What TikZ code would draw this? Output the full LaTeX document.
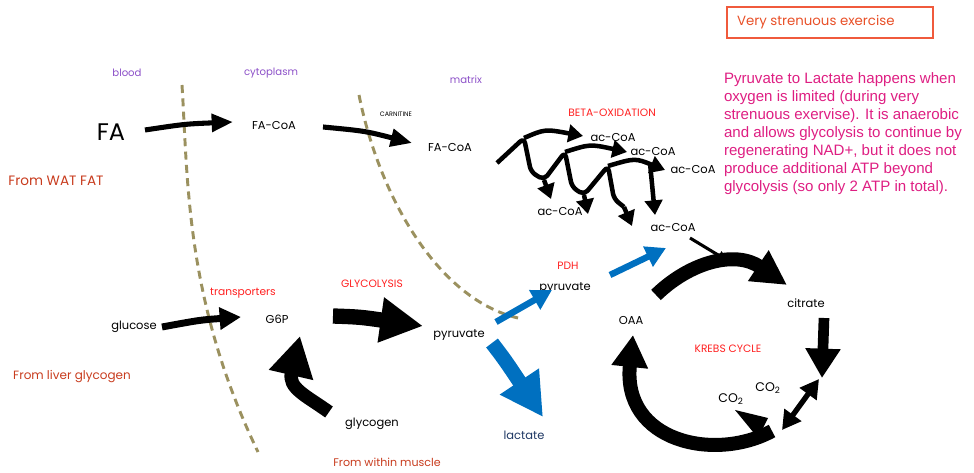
\documentclass[tikz,border=0pt]{standalone}
\usepackage{fontspec}
\setmainfont{Poppins}
\newfontfamily\arialf{Liberation Sans}
\usetikzlibrary{arrows.meta}
\definecolor{labred}{RGB}{255,32,32}
\definecolor{labpurple}{RGB}{140,80,200}
\definecolor{fromred}{RGB}{200,60,30}
\definecolor{arrblue}{RGB}{0,112,192}
\definecolor{navy}{RGB}{31,56,100}
\definecolor{olive}{RGB}{155,145,95}
\definecolor{magenta}{RGB}{222,30,130}
\definecolor{boxred}{RGB}{240,90,60}
\definecolor{boxtext}{RGB}{232,80,40}
\begin{document}
\begin{tikzpicture}[x=0.75pt,y=-0.75pt,
  every node/.style={inner sep=0pt,outer sep=0pt},
  lbl/.style={font=\fontsize{8.6}{10}\selectfont},
  redlbl/.style={text=labred,font=\fontsize{8}{9}\selectfont},
  purplbl/.style={text=labpurple,font=\fontsize{7.6}{9}\selectfont},
  fromlbl/.style={text=fromred,font=\fontsize{9.2}{10}\selectfont},
  membrane/.style={draw=olive,line width=2.2pt,dash pattern=on 6pt off 4pt},
  fat/.style args={#1/#2/#3}{draw,line width=#1,-{Triangle[width=#2,length=#3]}},
  bothfat/.style args={#1/#2/#3}{draw,line width=#1,{Triangle[width=#2,length=#3]}-{Triangle[width=#2,length=#3]}},
  bo/.style={draw,line width=3.4pt,line join=round},
  boarr/.style={bo,-{Triangle[width=13pt,length=11pt]}}
]
\useasboundingbox (0,0) rectangle (974,473);

% ---------- header box and note ----------
\node[draw=boxred,line width=0.9pt,minimum width=206*0.75pt,minimum height=31*0.75pt,anchor=north west] (box) at (727,7) {};
\node[anchor=west,text=boxtext,font=\fontsize{10}{12}\selectfont] (boxt) at (737,22) {Very strenuous exercise};
\node[anchor=north west,text=magenta,align=left,font=\arialf\fontsize{11.3}{13.5}\selectfont] (note) at (724,73)
 {Pyruvate to Lactate happens when\\oxygen is limited (during very\\strenuous exervise). It is anaerobic\\and allows glycolysis to continue by\\regenerating NAD+, but it does not\\produce additional ATP beyond\\glycolysis (so only 2 ATP in total).};

% ---------- membranes ----------
\draw[membrane] (182,85) .. controls (188,180) and (185,300) .. (258,452);
\draw[membrane] (359,95) .. controls (380,200) and (440,300) .. (518,318);

% ---------- compartment labels ----------
\node[purplbl] (blood) at (127,73) {blood};
\node[purplbl] (cyto) at (271,73) {cytoplasm};
\node[purplbl] (matrix) at (466,80) {matrix};

% ---------- fatty acid branch ----------
\node[font=\fontsize{18}{20}\selectfont] (fa) at (111,132) {FA};
\node[lbl] (facoa1) at (274,126) {FA-CoA};
\node[font=\fontsize{4.8}{5}\selectfont] (carn) at (396,114) {CARNITINE};
\node[lbl] (facoa2) at (450,148) {FA-CoA};
\node[fromlbl,font=\fontsize{10.2}{11}\selectfont] (wat) at (56,181) {From WAT FAT};

\coordinate (a1s) at (145,130); \coordinate (a1e) at (233,122);
\draw[fat=3.8pt/13pt/16pt] (a1s) .. controls (185,124) .. (a1e);
\coordinate (a2s) at (323,127); \coordinate (a2e) at (412,143);
\draw[fat=3.8pt/13pt/16pt] (a2s) .. controls (365,131) .. (a2e);

% ---------- beta oxidation ----------
\node[redlbl] (beta) at (612,113) {BETA-OXIDATION};
\node[lbl] (ac1) at (613,138) {ac-CoA};
\node[lbl] (ac2) at (653,152) {ac-CoA};
\node[lbl] (ac3) at (693,170) {ac-CoA};
\node[lbl] (ac4) at (560,212) {ac-CoA};
\node[lbl] (ac5) at (673,228) {ac-CoA};

\coordinate (p1) at (524,138); \coordinate (p2) at (565,152); \coordinate (p3) at (608,166);
\coordinate (v1) at (544,180); \coordinate (v2) at (584,195); \coordinate (v3) at (624,207);
\draw[bo,rounded corners=4pt] (497,163) -- (p1) -- (531,172) -- (v1) -- (p2) -- (572,187) -- (v2) -- (p3) -- (614,199) -- (v3);
\draw[boarr] (p1) .. controls (545,129) .. (583,136);
\draw[boarr] (p2) .. controls (590,144) .. (627,152);
\draw[boarr] (p3) .. controls (635,158) .. (665,170);
\draw[boarr] (v1) -- (551,199);
\draw[boarr] (v2) -- (588,214);
\draw[boarr] (v3) -- (632,226);
\draw[boarr] (650,163) -- (655,215);

% ---------- glycolysis ----------
\node[redlbl] (trans) at (243,293) {transporters};
\node[redlbl] (glyc) at (372,284) {GLYCOLYSIS};
\node[lbl] (glucose) at (134,327) {glucose};
\node[lbl] (g6p) at (277,319) {G6P};
\node[lbl] (pyr1) at (459,335) {pyruvate};
\node[fromlbl,font=\fontsize{9}{10}\selectfont] (liver) at (72,377) {From liver glycogen};
\node[lbl] (glycogen) at (372,424) {glycogen};
\node[fromlbl,font=\fontsize{8.3}{9}\selectfont] (muscle) at (387,462) {From within muscle};
\node[lbl,text=navy] (lactate) at (524,435) {lactate};

\coordinate (gs) at (162,327); \coordinate (ge) at (241,317);
\draw[fat=5.2pt/16pt/16pt] (gs) .. controls (200,320) .. (ge);
\coordinate (ys) at (333,316); \coordinate (ye) at (423,326);
\draw[fat=11.5pt/32pt/32pt] (ys) .. controls (360,317) .. (ye);
\coordinate (ks) at (329,412); \coordinate (ke) at (300,336);
\draw[fat=10pt/32pt/30pt] (ks) .. controls (305,395) and (288,388) .. (ke);

% ---------- PDH / lactate ----------
\node[redlbl] (pdh) at (568,266) {PDH};
\node[lbl] (pyr2) at (565,288) {pyruvate};
\draw[fat=4.8pt/16pt/15pt,draw=arrblue,color=arrblue] (496,322) -- (552,290);
\draw[fat=4.8pt/16pt/15pt,draw=arrblue,color=arrblue] (610,275) -- (666,248);
\draw[fat=11pt/33pt/32pt,draw=arrblue,color=arrblue] (492,343) .. controls (505,360) .. (543,417);

% ---------- Krebs cycle ----------
\node[lbl] (oaa) at (631,320) {OAA};
\node[lbl] (citrate) at (806,303) {citrate};
\node[redlbl] (krebs) at (728,349) {KREBS CYCLE};
\node[lbl,font=\fontsize{9.4}{10}\selectfont] (co2a) at (768,388) {CO\textsubscript{2}};
\node[lbl,font=\fontsize{9.4}{10}\selectfont] (co2b) at (731,399) {CO\textsubscript{2}};

\draw[draw,line width=2.3pt,-{Triangle[width=7pt,length=8pt]}] (690,238) -- (728,261);
\draw[fat=10.5pt/26pt/26pt] (656,295) .. controls (690,262) and (735,250) .. (787,285);
\draw[fat=8pt/25pt/22pt] (824,318) -- (822,378);
\draw[bothfat=4pt/15pt/14pt] (782,430) -- (819,379);
\draw[fat=10.5pt/26pt/24pt] (772,431) .. controls (715,462) and (622,442) .. (633,335);
\fill (735,410) -- (768,418) -- (758,438) -- cycle;
\end{tikzpicture}
\end{document}
